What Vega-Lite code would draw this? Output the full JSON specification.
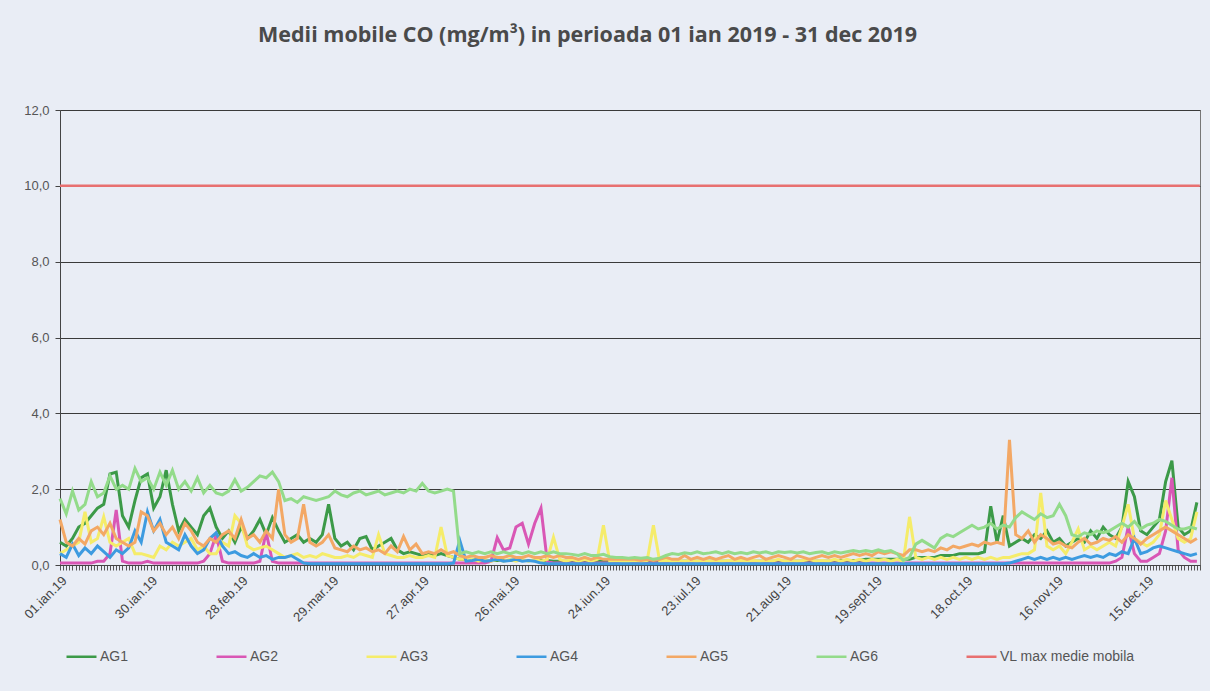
{
"$schema": "https://vega.github.io/schema/vega-lite/v6.json",
"width": 1140, "height": 455,
"autosize": "none",
"padding": {"left": 60, "top": 110, "right": 10, "bottom": 126},
"background": "#e9edf5",
"title": {"text": "Medii mobile CO (mg/m³) in perioada 01 ian 2019 - 31 dec 2019", "anchor": "start", "frame": "group", "dx": 198, "offset": 58, "font": "Open Sans", "fontSize": 21.5, "fontWeight": "bold", "color": "#4a4a4a"},
"config": {"view": {"stroke": "#777", "strokeWidth": 1}, "font": "Liberation Sans"},
"layer": [
{
"data": {"values": [
{"t":"2019-01-01","AG1":0.6,"AG2":0.05,"AG3":0.3,"AG4":0.3,"AG5":1.2,"AG6":1.75},
{"t":"2019-01-03","AG1":0.5,"AG2":0.05,"AG3":0.4,"AG4":0.2,"AG5":0.6,"AG6":1.35},
{"t":"2019-01-05","AG1":0.7,"AG2":0.05,"AG3":0.5,"AG4":0.55,"AG5":0.5,"AG6":1.95},
{"t":"2019-01-07","AG1":1.0,"AG2":0.05,"AG3":0.6,"AG4":0.25,"AG5":0.7,"AG6":1.45},
{"t":"2019-01-09","AG1":1.1,"AG2":0.05,"AG3":1.4,"AG4":0.45,"AG5":0.55,"AG6":1.6},
{"t":"2019-01-11","AG1":1.3,"AG2":0.05,"AG3":0.6,"AG4":0.3,"AG5":0.9,"AG6":2.2},
{"t":"2019-01-13","AG1":1.5,"AG2":0.1,"AG3":0.7,"AG4":0.5,"AG5":1.0,"AG6":1.8},
{"t":"2019-01-15","AG1":1.6,"AG2":0.1,"AG3":1.27,"AG4":0.35,"AG5":0.8,"AG6":1.9},
{"t":"2019-01-17","AG1":2.4,"AG2":0.3,"AG3":0.6,"AG4":0.2,"AG5":1.1,"AG6":2.35},
{"t":"2019-01-19","AG1":2.45,"AG2":1.45,"AG3":0.5,"AG4":0.4,"AG5":0.7,"AG6":2.0},
{"t":"2019-01-21","AG1":1.3,"AG2":0.1,"AG3":0.6,"AG4":0.3,"AG5":0.6,"AG6":2.1},
{"t":"2019-01-23","AG1":1.0,"AG2":0.05,"AG3":0.7,"AG4":0.45,"AG5":0.5,"AG6":2.0},
{"t":"2019-01-25","AG1":1.7,"AG2":0.05,"AG3":0.3,"AG4":0.9,"AG5":0.6,"AG6":2.55},
{"t":"2019-01-27","AG1":2.3,"AG2":0.05,"AG3":0.3,"AG4":0.6,"AG5":1.4,"AG6":2.2},
{"t":"2019-01-29","AG1":2.4,"AG2":0.1,"AG3":0.25,"AG4":1.4,"AG5":1.3,"AG6":2.3},
{"t":"2019-01-31","AG1":1.5,"AG2":0.05,"AG3":0.2,"AG4":0.9,"AG5":0.9,"AG6":2.0},
{"t":"2019-02-02","AG1":1.8,"AG2":0.05,"AG3":0.5,"AG4":1.2,"AG5":1.1,"AG6":2.45},
{"t":"2019-02-04","AG1":2.5,"AG2":0.05,"AG3":0.4,"AG4":0.6,"AG5":0.8,"AG6":2.1},
{"t":"2019-02-06","AG1":1.6,"AG2":0.05,"AG3":0.6,"AG4":0.5,"AG5":1.0,"AG6":2.5},
{"t":"2019-02-08","AG1":0.9,"AG2":0.05,"AG3":0.5,"AG4":0.4,"AG5":0.7,"AG6":2.0},
{"t":"2019-02-10","AG1":1.2,"AG2":0.05,"AG3":0.6,"AG4":0.8,"AG5":1.1,"AG6":2.2},
{"t":"2019-02-12","AG1":1.0,"AG2":0.05,"AG3":0.7,"AG4":0.5,"AG5":0.9,"AG6":1.95},
{"t":"2019-02-14","AG1":0.8,"AG2":0.05,"AG3":0.4,"AG4":0.3,"AG5":0.6,"AG6":2.3},
{"t":"2019-02-16","AG1":1.3,"AG2":0.1,"AG3":0.5,"AG4":0.4,"AG5":0.5,"AG6":1.9},
{"t":"2019-02-18","AG1":1.5,"AG2":0.3,"AG3":0.3,"AG4":0.7,"AG5":0.7,"AG6":2.1},
{"t":"2019-02-20","AG1":1.0,"AG2":0.8,"AG3":0.3,"AG4":0.85,"AG5":0.6,"AG6":1.9},
{"t":"2019-02-22","AG1":0.7,"AG2":0.1,"AG3":0.6,"AG4":0.5,"AG5":0.8,"AG6":1.85},
{"t":"2019-02-24","AG1":0.9,"AG2":0.05,"AG3":0.5,"AG4":0.3,"AG5":0.9,"AG6":1.95},
{"t":"2019-02-26","AG1":0.6,"AG2":0.05,"AG3":1.3,"AG4":0.35,"AG5":0.7,"AG6":2.25},
{"t":"2019-02-28","AG1":1.0,"AG2":0.05,"AG3":1.1,"AG4":0.25,"AG5":1.2,"AG6":1.95},
{"t":"2019-03-02","AG1":0.7,"AG2":0.05,"AG3":0.5,"AG4":0.2,"AG5":0.7,"AG6":2.05},
{"t":"2019-03-04","AG1":0.9,"AG2":0.05,"AG3":0.4,"AG4":0.3,"AG5":0.8,"AG6":2.2},
{"t":"2019-03-06","AG1":1.2,"AG2":0.1,"AG3":0.45,"AG4":0.2,"AG5":0.6,"AG6":2.35},
{"t":"2019-03-08","AG1":0.8,"AG2":0.87,"AG3":0.5,"AG4":0.25,"AG5":0.9,"AG6":2.3},
{"t":"2019-03-10","AG1":1.25,"AG2":0.1,"AG3":0.4,"AG4":0.15,"AG5":0.7,"AG6":2.45},
{"t":"2019-03-12","AG1":0.9,"AG2":0.05,"AG3":0.3,"AG4":0.2,"AG5":2.0,"AG6":2.2},
{"t":"2019-03-14","AG1":0.6,"AG2":0.05,"AG3":0.2,"AG4":0.2,"AG5":0.8,"AG6":1.7},
{"t":"2019-03-16","AG1":0.7,"AG2":0.05,"AG3":0.25,"AG4":0.25,"AG5":0.6,"AG6":1.75},
{"t":"2019-03-18","AG1":0.8,"AG2":0.05,"AG3":0.3,"AG4":0.15,"AG5":0.7,"AG6":1.65},
{"t":"2019-03-20","AG1":0.6,"AG2":0.05,"AG3":0.2,"AG4":0.05,"AG5":1.6,"AG6":1.8},
{"t":"2019-03-22","AG1":0.7,"AG2":0.05,"AG3":0.25,"AG4":0.03,"AG5":0.6,"AG6":1.75},
{"t":"2019-03-24","AG1":0.6,"AG2":0.05,"AG3":0.2,"AG4":0.03,"AG5":0.5,"AG6":1.7},
{"t":"2019-03-26","AG1":0.8,"AG2":0.05,"AG3":0.3,"AG4":0.03,"AG5":0.6,"AG6":1.75},
{"t":"2019-03-28","AG1":1.6,"AG2":0.05,"AG3":0.25,"AG4":0.03,"AG5":0.8,"AG6":1.8},
{"t":"2019-03-30","AG1":0.7,"AG2":0.05,"AG3":0.2,"AG4":0.03,"AG5":0.45,"AG6":1.95},
{"t":"2019-04-01","AG1":0.5,"AG2":0.05,"AG3":0.2,"AG4":0.03,"AG5":0.4,"AG6":1.85},
{"t":"2019-04-03","AG1":0.6,"AG2":0.05,"AG3":0.25,"AG4":0.03,"AG5":0.35,"AG6":1.8},
{"t":"2019-04-05","AG1":0.4,"AG2":0.05,"AG3":0.2,"AG4":0.03,"AG5":0.5,"AG6":1.9},
{"t":"2019-04-07","AG1":0.7,"AG2":0.05,"AG3":0.3,"AG4":0.03,"AG5":0.4,"AG6":1.95},
{"t":"2019-04-09","AG1":0.75,"AG2":0.05,"AG3":0.25,"AG4":0.03,"AG5":0.45,"AG6":1.85},
{"t":"2019-04-11","AG1":0.4,"AG2":0.05,"AG3":0.2,"AG4":0.03,"AG5":0.35,"AG6":1.9},
{"t":"2019-04-13","AG1":0.5,"AG2":0.05,"AG3":0.8,"AG4":0.03,"AG5":0.4,"AG6":1.95},
{"t":"2019-04-15","AG1":0.6,"AG2":0.05,"AG3":0.3,"AG4":0.03,"AG5":0.3,"AG6":1.85},
{"t":"2019-04-17","AG1":0.7,"AG2":0.05,"AG3":0.25,"AG4":0.03,"AG5":0.5,"AG6":1.9},
{"t":"2019-04-19","AG1":0.4,"AG2":0.05,"AG3":0.2,"AG4":0.03,"AG5":0.35,"AG6":1.95},
{"t":"2019-04-21","AG1":0.3,"AG2":0.05,"AG3":0.2,"AG4":0.03,"AG5":0.75,"AG6":1.9},
{"t":"2019-04-23","AG1":0.35,"AG2":0.05,"AG3":0.25,"AG4":0.03,"AG5":0.4,"AG6":2.0},
{"t":"2019-04-25","AG1":0.3,"AG2":0.05,"AG3":0.2,"AG4":0.03,"AG5":0.55,"AG6":1.95},
{"t":"2019-04-27","AG1":0.25,"AG2":0.05,"AG3":0.2,"AG4":0.03,"AG5":0.3,"AG6":2.15},
{"t":"2019-04-29","AG1":0.3,"AG2":0.05,"AG3":0.25,"AG4":0.03,"AG5":0.35,"AG6":1.95},
{"t":"2019-05-01","AG1":0.25,"AG2":0.05,"AG3":0.2,"AG4":0.03,"AG5":0.3,"AG6":1.9},
{"t":"2019-05-03","AG1":0.3,"AG2":0.05,"AG3":1.0,"AG4":0.03,"AG5":0.4,"AG6":1.95},
{"t":"2019-05-05","AG1":0.25,"AG2":0.05,"AG3":0.25,"AG4":0.03,"AG5":0.3,"AG6":2.0},
{"t":"2019-05-07","AG1":0.2,"AG2":0.05,"AG3":0.2,"AG4":0.05,"AG5":0.35,"AG6":1.95},
{"t":"2019-05-09","AG1":0.15,"AG2":0.05,"AG3":0.15,"AG4":0.65,"AG5":0.25,"AG6":0.3},
{"t":"2019-05-11","AG1":0.15,"AG2":0.05,"AG3":0.15,"AG4":0.1,"AG5":0.2,"AG6":0.35},
{"t":"2019-05-13","AG1":0.15,"AG2":0.05,"AG3":0.15,"AG4":0.12,"AG5":0.25,"AG6":0.3},
{"t":"2019-05-15","AG1":0.12,"AG2":0.05,"AG3":0.1,"AG4":0.15,"AG5":0.2,"AG6":0.35},
{"t":"2019-05-17","AG1":0.12,"AG2":0.05,"AG3":0.15,"AG4":0.1,"AG5":0.2,"AG6":0.3},
{"t":"2019-05-19","AG1":0.12,"AG2":0.1,"AG3":0.1,"AG4":0.12,"AG5":0.25,"AG6":0.35},
{"t":"2019-05-21","AG1":0.12,"AG2":0.72,"AG3":0.15,"AG4":0.15,"AG5":0.2,"AG6":0.3},
{"t":"2019-05-23","AG1":0.12,"AG2":0.4,"AG3":0.1,"AG4":0.1,"AG5":0.2,"AG6":0.35},
{"t":"2019-05-25","AG1":0.12,"AG2":0.45,"AG3":0.15,"AG4":0.12,"AG5":0.25,"AG6":0.3},
{"t":"2019-05-27","AG1":0.12,"AG2":1.0,"AG3":0.1,"AG4":0.15,"AG5":0.2,"AG6":0.35},
{"t":"2019-05-29","AG1":0.12,"AG2":1.1,"AG3":0.15,"AG4":0.1,"AG5":0.2,"AG6":0.3},
{"t":"2019-05-31","AG1":0.12,"AG2":0.55,"AG3":0.1,"AG4":0.12,"AG5":0.25,"AG6":0.35},
{"t":"2019-06-02","AG1":0.12,"AG2":1.1,"AG3":0.15,"AG4":0.1,"AG5":0.2,"AG6":0.3},
{"t":"2019-06-04","AG1":0.12,"AG2":1.5,"AG3":0.1,"AG4":0.05,"AG5":0.2,"AG6":0.35},
{"t":"2019-06-06","AG1":0.12,"AG2":0.1,"AG3":0.15,"AG4":0.03,"AG5":0.25,"AG6":0.3},
{"t":"2019-06-08","AG1":0.1,"AG2":0.05,"AG3":0.73,"AG4":0.03,"AG5":0.2,"AG6":0.35},
{"t":"2019-06-10","AG1":0.1,"AG2":0.05,"AG3":0.15,"AG4":0.03,"AG5":0.25,"AG6":0.3},
{"t":"2019-06-12","AG1":0.1,"AG2":0.05,"AG3":0.1,"AG4":0.03,"AG5":0.2,"AG6":0.3},
{"t":"2019-06-14","AG1":0.1,"AG2":0.05,"AG3":0.15,"AG4":0.03,"AG5":0.2,"AG6":0.28},
{"t":"2019-06-16","AG1":0.1,"AG2":0.05,"AG3":0.1,"AG4":0.03,"AG5":0.15,"AG6":0.25},
{"t":"2019-06-18","AG1":0.1,"AG2":0.05,"AG3":0.15,"AG4":0.03,"AG5":0.2,"AG6":0.3},
{"t":"2019-06-20","AG1":0.1,"AG2":0.05,"AG3":0.1,"AG4":0.03,"AG5":0.15,"AG6":0.25},
{"t":"2019-06-22","AG1":0.1,"AG2":0.05,"AG3":0.15,"AG4":0.03,"AG5":0.2,"AG6":0.25},
{"t":"2019-06-24","AG1":0.1,"AG2":0.05,"AG3":1.05,"AG4":0.03,"AG5":0.15,"AG6":0.28},
{"t":"2019-06-26","AG1":0.1,"AG2":0.05,"AG3":0.1,"AG4":0.03,"AG5":0.15,"AG6":0.22},
{"t":"2019-06-28","AG1":0.1,"AG2":0.05,"AG3":0.12,"AG4":0.03,"AG5":0.15,"AG6":0.2},
{"t":"2019-06-30","AG1":0.1,"AG2":0.05,"AG3":0.1,"AG4":0.03,"AG5":0.15,"AG6":0.2},
{"t":"2019-07-02","AG1":0.1,"AG2":0.05,"AG3":0.1,"AG4":0.03,"AG5":0.15,"AG6":0.18},
{"t":"2019-07-04","AG1":0.1,"AG2":0.05,"AG3":0.12,"AG4":0.03,"AG5":0.15,"AG6":0.2},
{"t":"2019-07-06","AG1":0.1,"AG2":0.05,"AG3":0.1,"AG4":0.03,"AG5":0.12,"AG6":0.18},
{"t":"2019-07-08","AG1":0.1,"AG2":0.05,"AG3":0.12,"AG4":0.03,"AG5":0.15,"AG6":0.2},
{"t":"2019-07-10","AG1":0.1,"AG2":0.05,"AG3":1.05,"AG4":0.03,"AG5":0.12,"AG6":0.15},
{"t":"2019-07-12","AG1":0.1,"AG2":0.05,"AG3":0.1,"AG4":0.03,"AG5":0.15,"AG6":0.18},
{"t":"2019-07-14","AG1":0.1,"AG2":0.05,"AG3":0.12,"AG4":0.03,"AG5":0.2,"AG6":0.25},
{"t":"2019-07-16","AG1":0.1,"AG2":0.05,"AG3":0.1,"AG4":0.03,"AG5":0.15,"AG6":0.3},
{"t":"2019-07-18","AG1":0.1,"AG2":0.05,"AG3":0.12,"AG4":0.03,"AG5":0.15,"AG6":0.28},
{"t":"2019-07-20","AG1":0.1,"AG2":0.05,"AG3":0.1,"AG4":0.03,"AG5":0.25,"AG6":0.32},
{"t":"2019-07-22","AG1":0.1,"AG2":0.05,"AG3":0.12,"AG4":0.03,"AG5":0.15,"AG6":0.3},
{"t":"2019-07-24","AG1":0.1,"AG2":0.05,"AG3":0.1,"AG4":0.03,"AG5":0.2,"AG6":0.35},
{"t":"2019-07-26","AG1":0.1,"AG2":0.05,"AG3":0.12,"AG4":0.03,"AG5":0.15,"AG6":0.3},
{"t":"2019-07-28","AG1":0.1,"AG2":0.05,"AG3":0.1,"AG4":0.03,"AG5":0.2,"AG6":0.32},
{"t":"2019-07-30","AG1":0.1,"AG2":0.05,"AG3":0.12,"AG4":0.03,"AG5":0.15,"AG6":0.35},
{"t":"2019-08-01","AG1":0.1,"AG2":0.05,"AG3":0.1,"AG4":0.03,"AG5":0.2,"AG6":0.3},
{"t":"2019-08-03","AG1":0.1,"AG2":0.05,"AG3":0.12,"AG4":0.03,"AG5":0.25,"AG6":0.35},
{"t":"2019-08-05","AG1":0.1,"AG2":0.05,"AG3":0.1,"AG4":0.03,"AG5":0.15,"AG6":0.3},
{"t":"2019-08-07","AG1":0.1,"AG2":0.05,"AG3":0.12,"AG4":0.03,"AG5":0.2,"AG6":0.33},
{"t":"2019-08-09","AG1":0.1,"AG2":0.05,"AG3":0.1,"AG4":0.03,"AG5":0.15,"AG6":0.3},
{"t":"2019-08-11","AG1":0.1,"AG2":0.05,"AG3":0.12,"AG4":0.03,"AG5":0.2,"AG6":0.35},
{"t":"2019-08-13","AG1":0.1,"AG2":0.05,"AG3":0.1,"AG4":0.03,"AG5":0.25,"AG6":0.32},
{"t":"2019-08-15","AG1":0.1,"AG2":0.05,"AG3":0.12,"AG4":0.03,"AG5":0.15,"AG6":0.35},
{"t":"2019-08-17","AG1":0.1,"AG2":0.05,"AG3":0.1,"AG4":0.03,"AG5":0.2,"AG6":0.3},
{"t":"2019-08-19","AG1":0.1,"AG2":0.05,"AG3":0.15,"AG4":0.03,"AG5":0.25,"AG6":0.35},
{"t":"2019-08-21","AG1":0.1,"AG2":0.05,"AG3":0.1,"AG4":0.03,"AG5":0.2,"AG6":0.33},
{"t":"2019-08-23","AG1":0.1,"AG2":0.05,"AG3":0.12,"AG4":0.03,"AG5":0.15,"AG6":0.35},
{"t":"2019-08-25","AG1":0.1,"AG2":0.05,"AG3":0.1,"AG4":0.03,"AG5":0.25,"AG6":0.32},
{"t":"2019-08-27","AG1":0.1,"AG2":0.05,"AG3":0.12,"AG4":0.03,"AG5":0.2,"AG6":0.35},
{"t":"2019-08-29","AG1":0.1,"AG2":0.05,"AG3":0.15,"AG4":0.03,"AG5":0.15,"AG6":0.3},
{"t":"2019-08-31","AG1":0.1,"AG2":0.05,"AG3":0.1,"AG4":0.03,"AG5":0.2,"AG6":0.33},
{"t":"2019-09-02","AG1":0.1,"AG2":0.05,"AG3":0.12,"AG4":0.03,"AG5":0.25,"AG6":0.35},
{"t":"2019-09-04","AG1":0.1,"AG2":0.05,"AG3":0.1,"AG4":0.03,"AG5":0.2,"AG6":0.3},
{"t":"2019-09-06","AG1":0.12,"AG2":0.05,"AG3":0.15,"AG4":0.03,"AG5":0.25,"AG6":0.35},
{"t":"2019-09-08","AG1":0.12,"AG2":0.05,"AG3":0.1,"AG4":0.03,"AG5":0.2,"AG6":0.32},
{"t":"2019-09-10","AG1":0.12,"AG2":0.05,"AG3":0.15,"AG4":0.03,"AG5":0.25,"AG6":0.35},
{"t":"2019-09-12","AG1":0.12,"AG2":0.05,"AG3":0.1,"AG4":0.03,"AG5":0.3,"AG6":0.38},
{"t":"2019-09-14","AG1":0.12,"AG2":0.05,"AG3":0.15,"AG4":0.03,"AG5":0.25,"AG6":0.35},
{"t":"2019-09-16","AG1":0.15,"AG2":0.05,"AG3":0.1,"AG4":0.03,"AG5":0.3,"AG6":0.38},
{"t":"2019-09-18","AG1":0.15,"AG2":0.05,"AG3":0.15,"AG4":0.03,"AG5":0.25,"AG6":0.35},
{"t":"2019-09-20","AG1":0.15,"AG2":0.05,"AG3":0.12,"AG4":0.03,"AG5":0.35,"AG6":0.4},
{"t":"2019-09-22","AG1":0.15,"AG2":0.05,"AG3":0.15,"AG4":0.03,"AG5":0.3,"AG6":0.35},
{"t":"2019-09-24","AG1":0.15,"AG2":0.05,"AG3":0.1,"AG4":0.03,"AG5":0.35,"AG6":0.38},
{"t":"2019-09-26","AG1":0.15,"AG2":0.05,"AG3":0.15,"AG4":0.03,"AG5":0.3,"AG6":0.3},
{"t":"2019-09-28","AG1":0.15,"AG2":0.05,"AG3":0.1,"AG4":0.03,"AG5":0.25,"AG6":0.12},
{"t":"2019-09-30","AG1":0.15,"AG2":0.05,"AG3":1.27,"AG4":0.03,"AG5":0.4,"AG6":0.2},
{"t":"2019-10-02","AG1":0.2,"AG2":0.05,"AG3":0.2,"AG4":0.03,"AG5":0.4,"AG6":0.55},
{"t":"2019-10-04","AG1":0.2,"AG2":0.05,"AG3":0.15,"AG4":0.03,"AG5":0.35,"AG6":0.65},
{"t":"2019-10-06","AG1":0.2,"AG2":0.05,"AG3":0.2,"AG4":0.03,"AG5":0.4,"AG6":0.55},
{"t":"2019-10-08","AG1":0.2,"AG2":0.05,"AG3":0.15,"AG4":0.03,"AG5":0.35,"AG6":0.45},
{"t":"2019-10-10","AG1":0.25,"AG2":0.05,"AG3":0.2,"AG4":0.03,"AG5":0.45,"AG6":0.7},
{"t":"2019-10-12","AG1":0.25,"AG2":0.05,"AG3":0.15,"AG4":0.03,"AG5":0.4,"AG6":0.8},
{"t":"2019-10-14","AG1":0.25,"AG2":0.05,"AG3":0.2,"AG4":0.03,"AG5":0.5,"AG6":0.75},
{"t":"2019-10-16","AG1":0.3,"AG2":0.05,"AG3":0.15,"AG4":0.03,"AG5":0.45,"AG6":0.85},
{"t":"2019-10-18","AG1":0.3,"AG2":0.05,"AG3":0.2,"AG4":0.03,"AG5":0.5,"AG6":0.95},
{"t":"2019-10-20","AG1":0.3,"AG2":0.05,"AG3":0.15,"AG4":0.03,"AG5":0.55,"AG6":1.05},
{"t":"2019-10-22","AG1":0.3,"AG2":0.05,"AG3":0.2,"AG4":0.03,"AG5":0.5,"AG6":0.95},
{"t":"2019-10-24","AG1":0.35,"AG2":0.05,"AG3":0.15,"AG4":0.03,"AG5":0.6,"AG6":1.0},
{"t":"2019-10-26","AG1":1.55,"AG2":0.05,"AG3":0.2,"AG4":0.03,"AG5":0.55,"AG6":1.1},
{"t":"2019-10-28","AG1":0.6,"AG2":0.05,"AG3":0.15,"AG4":0.03,"AG5":0.6,"AG6":0.95},
{"t":"2019-10-30","AG1":1.3,"AG2":0.05,"AG3":0.2,"AG4":0.03,"AG5":0.55,"AG6":1.05},
{"t":"2019-11-01","AG1":0.5,"AG2":0.05,"AG3":0.2,"AG4":0.05,"AG5":3.3,"AG6":1.0},
{"t":"2019-11-03","AG1":0.6,"AG2":0.05,"AG3":0.25,"AG4":0.1,"AG5":0.8,"AG6":1.25},
{"t":"2019-11-05","AG1":0.7,"AG2":0.05,"AG3":0.3,"AG4":0.15,"AG5":0.7,"AG6":1.4},
{"t":"2019-11-07","AG1":0.6,"AG2":0.05,"AG3":0.3,"AG4":0.2,"AG5":0.9,"AG6":1.3},
{"t":"2019-11-09","AG1":0.8,"AG2":0.05,"AG3":0.4,"AG4":0.15,"AG5":0.6,"AG6":1.2},
{"t":"2019-11-11","AG1":0.7,"AG2":0.05,"AG3":1.9,"AG4":0.2,"AG5":0.8,"AG6":1.35},
{"t":"2019-11-13","AG1":0.9,"AG2":0.05,"AG3":0.5,"AG4":0.15,"AG5":0.7,"AG6":1.25},
{"t":"2019-11-15","AG1":0.6,"AG2":0.05,"AG3":0.4,"AG4":0.2,"AG5":0.55,"AG6":1.3},
{"t":"2019-11-17","AG1":0.7,"AG2":0.05,"AG3":0.5,"AG4":0.15,"AG5":0.6,"AG6":1.6},
{"t":"2019-11-19","AG1":0.5,"AG2":0.05,"AG3":0.3,"AG4":0.2,"AG5":0.5,"AG6":1.3},
{"t":"2019-11-21","AG1":0.6,"AG2":0.05,"AG3":0.6,"AG4":0.15,"AG5":0.45,"AG6":0.8},
{"t":"2019-11-23","AG1":0.7,"AG2":0.05,"AG3":0.95,"AG4":0.2,"AG5":0.6,"AG6":0.75},
{"t":"2019-11-25","AG1":0.6,"AG2":0.05,"AG3":0.4,"AG4":0.25,"AG5":0.7,"AG6":0.85},
{"t":"2019-11-27","AG1":0.9,"AG2":0.05,"AG3":0.5,"AG4":0.2,"AG5":0.55,"AG6":0.8},
{"t":"2019-11-29","AG1":0.7,"AG2":0.05,"AG3":0.4,"AG4":0.25,"AG5":0.6,"AG6":0.9},
{"t":"2019-12-01","AG1":1.0,"AG2":0.05,"AG3":0.5,"AG4":0.2,"AG5":0.7,"AG6":0.85},
{"t":"2019-12-03","AG1":0.8,"AG2":0.05,"AG3":0.6,"AG4":0.3,"AG5":0.65,"AG6":0.9},
{"t":"2019-12-05","AG1":0.7,"AG2":0.1,"AG3":0.5,"AG4":0.25,"AG5":0.75,"AG6":1.0},
{"t":"2019-12-07","AG1":1.0,"AG2":0.2,"AG3":1.0,"AG4":0.35,"AG5":0.6,"AG6":1.1},
{"t":"2019-12-09","AG1":2.2,"AG2":1.0,"AG3":1.6,"AG4":0.3,"AG5":0.8,"AG6":1.0},
{"t":"2019-12-11","AG1":1.8,"AG2":0.3,"AG3":0.7,"AG4":0.7,"AG5":0.7,"AG6":1.15},
{"t":"2019-12-13","AG1":0.9,"AG2":0.1,"AG3":0.6,"AG4":0.3,"AG5":0.55,"AG6":0.95},
{"t":"2019-12-15","AG1":0.8,"AG2":0.1,"AG3":0.5,"AG4":0.35,"AG5":0.7,"AG6":1.05},
{"t":"2019-12-17","AG1":1.0,"AG2":0.2,"AG3":0.6,"AG4":0.45,"AG5":0.8,"AG6":1.1},
{"t":"2019-12-19","AG1":1.2,"AG2":0.3,"AG3":0.8,"AG4":0.5,"AG5":0.9,"AG6":1.2},
{"t":"2019-12-21","AG1":2.2,"AG2":0.9,"AG3":1.7,"AG4":0.45,"AG5":1.0,"AG6":1.15},
{"t":"2019-12-23","AG1":2.75,"AG2":2.3,"AG3":1.2,"AG4":0.4,"AG5":0.9,"AG6":1.05},
{"t":"2019-12-25","AG1":1.0,"AG2":0.4,"AG3":0.7,"AG4":0.35,"AG5":0.8,"AG6":0.95},
{"t":"2019-12-27","AG1":0.8,"AG2":0.2,"AG3":0.6,"AG4":0.3,"AG5":0.7,"AG6":0.95},
{"t":"2019-12-29","AG1":0.9,"AG2":0.1,"AG3":0.7,"AG4":0.25,"AG5":0.6,"AG6":1.0},
{"t":"2019-12-31","AG1":1.65,"AG2":0.1,"AG3":1.4,"AG4":0.3,"AG5":0.7,"AG6":0.95}
]},
"transform": [{"fold": ["AG1","AG2","AG3","AG4","AG5","AG6"], "as": ["s","v"]}],
"mark": {"type": "line", "strokeWidth": 3},
"encoding": {
"x": {"field": "t", "type": "temporal",
 "scale": {"type": "utc", "domain": [{"year": 2019, "month": 1, "date": 1, "utc": true}, {"year": 2020, "month": 1, "date": 1, "utc": true}]},
 "axis": {"title": null, "grid": false, "tickCount": {"interval": "day", "step": 1}, "labelOverlap": false, "labelFlush": false, "labelBound": false,
  "labelExpr": "((datum.value - utc(2019,0,1)) % (29*86400000) == 0) ? (utcFormat(datum.value, '%d') + '.' + ['ian','feb','mar','apr','mai','iun','iul','aug','sept','oct','nov','dec'][utcmonth(datum.value)] + '.19') : ''",
  "labelAngle": -45, "labelFontSize": 13, "labelColor": "#444", "tickSize": 5, "tickColor": "#555", "domainColor": "#444", "labelPadding": 4}},
"y": {"field": "v", "type": "quantitative",
 "scale": {"domain": [0, 12], "nice": false},
 "axis": {"title": null, "values": [0,2,4,6,8,10,12], "labelExpr": "replace(format(datum.value, '.1f'), '.', ',')", "grid": true, "gridColor": "#3a3a3a", "gridWidth": 1, "domainColor": "#444", "tickColor": "#444", "tickSize": 5, "labelColor": "#555", "labelFontSize": 13, "labelPadding": 6}},
"color": {"field": "s", "type": "nominal",
 "scale": {"domain": ["AG1","AG2","AG3","AG4","AG5","AG6","VL max medie mobila"], "range": ["#3c9a48","#d957b5","#f5ec6a","#3d9be0","#f3a865","#93db8a","#e87070"]},
 "legend": {"title": null, "orient": "none", "legendX": 5, "legendY": 530, "direction": "horizontal", "columns": 7, "gridAlign": "each", "columnPadding": 82, "symbolType": "stroke", "symbolSize": 900, "symbolStrokeWidth": 2.5, "labelFontSize": 14, "labelColor": "#555", "labelLimit": 220, "labelOffset": 2}}
}
},
{
"data": {"values": [{"t": "2019-01-01", "v": 10, "s": "VL max medie mobila"}, {"t": "2019-12-31T23:00:00Z", "v": 10, "s": "VL max medie mobila"}]},
"mark": {"type": "line", "strokeWidth": 2.5},
"encoding": {
"x": {"field": "t", "type": "temporal"},
"y": {"field": "v", "type": "quantitative"},
"color": {"field": "s", "type": "nominal"}
}
}
]
}
